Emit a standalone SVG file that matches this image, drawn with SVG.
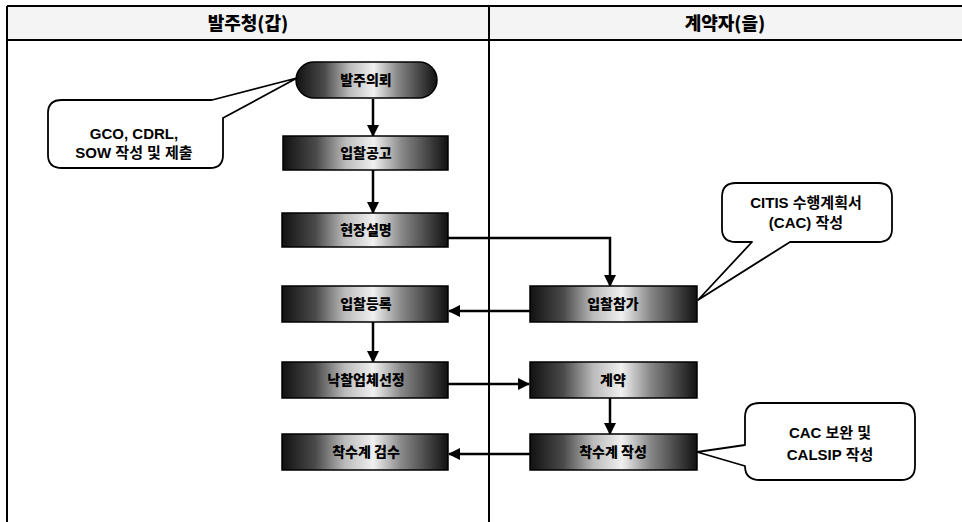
<svg xmlns="http://www.w3.org/2000/svg" width="962" height="522" viewBox="0 0 962 522">
<defs>
<linearGradient id="g" x1="0" y1="0" x2="1" y2="0">
<stop offset="0" stop-color="#111"/>
<stop offset="0.2" stop-color="#4a4a4a"/>
<stop offset="0.38" stop-color="#bbb"/>
<stop offset="0.55" stop-color="#f0f0f0"/>
<stop offset="0.72" stop-color="#888"/>
<stop offset="1" stop-color="#111"/>
</linearGradient>
<marker id="ah" viewBox="0 0 12 12" refX="11" refY="6" markerWidth="12" markerHeight="12" markerUnits="userSpaceOnUse" orient="auto">
<path d="M0,0 L12,6 L0,12 Z" fill="#000"/>
</marker>
<style>
.frame{stroke:#000;stroke-width:2;fill:none}
.hdr{font-family:"Noto Sans CJK KR",sans-serif;font-weight:900;font-size:18px;text-anchor:middle;fill:#000}
.box{fill:url(#g);stroke:#000;stroke-width:1.5}
.lbl{font-family:"Noto Sans CJK KR",sans-serif;font-weight:900;font-size:14px;text-anchor:middle;fill:#000}
.conn{stroke:#000;stroke-width:2.5;fill:none;marker-end:url(#ah)}
.call{fill:#fff;stroke:#000;stroke-width:1.8;stroke-linejoin:round}
.ct{font-family:"Liberation Sans","Noto Sans CJK KR",sans-serif;font-weight:bold;font-size:15px;text-anchor:middle;fill:#000}
</style>
</defs>
<rect x="7" y="6" width="955" height="34" fill="#f4f4f4"/>
<g id="frame">
<line class="frame" x1="7" y1="6" x2="962" y2="6"/>
<line class="frame" x1="7" y1="40" x2="962" y2="40"/>
<line class="frame" x1="7" y1="6" x2="7" y2="522"/>
<line class="frame" x1="489" y1="6" x2="489" y2="522"/>
<text class="hdr" x="248" y="30">발주청(갑)</text>
<text class="hdr" x="725" y="30">계약자(을)</text>
</g>
<g id="connectors">
<line class="conn" x1="373" y1="99" x2="373" y2="136"/>
<line class="conn" x1="373" y1="170" x2="373" y2="213"/>
<polyline class="conn" points="448,238 610,238 610,286"/>
<line class="conn" x1="530" y1="311" x2="449" y2="311"/>
<line class="conn" x1="373" y1="322" x2="373" y2="362"/>
<line class="conn" x1="448" y1="384" x2="529" y2="384"/>
<line class="conn" x1="610" y1="398" x2="610" y2="434"/>
<line class="conn" x1="530" y1="454" x2="449" y2="454"/>
</g>
<g id="n1"><rect class="box" x="296" y="62" width="141" height="36" rx="18"/><text class="lbl" x="366" y="85">발주의뢰</text></g>
<g id="n2"><rect class="box" x="283" y="136" width="165" height="34"/><text class="lbl" x="366" y="158">입찰공고</text></g>
<g id="n3"><rect class="box" x="282" y="213" width="166" height="34"/><text class="lbl" x="366" y="235">현장설명</text></g>
<g id="n4"><rect class="box" x="282" y="286" width="166" height="36"/><text class="lbl" x="366" y="309">입찰등록</text></g>
<g id="n5"><rect class="box" x="282" y="362" width="166" height="36"/><text class="lbl" x="366" y="385">낙찰업체선정</text></g>
<g id="n6"><rect class="box" x="282" y="434" width="166" height="36"/><text class="lbl" x="366" y="457">착수계 검수</text></g>
<g id="n7"><rect class="box" x="530" y="286" width="167" height="36"/><text class="lbl" x="613" y="309">입찰참가</text></g>
<g id="n8"><rect class="box" x="530" y="362" width="167" height="36"/><text class="lbl" x="613" y="385">계약</text></g>
<g id="n9"><rect class="box" x="530" y="434" width="167" height="36"/><text class="lbl" x="613" y="457">착수계 작성</text></g>
<g id="c1">
<path class="call" d="M62,100 L212,100 L297,78 L223,118 L223,155 Q223,168 210,168 L62,168 Q48,168 48,155 L48,113 Q48,100 62,100 Z"/>
<text class="ct" x="134" y="139">GCO, CDRL,</text>
<text class="ct" x="134" y="158">SOW 작성 및 제출</text>
</g>
<g id="c2">
<path class="call" d="M736,183 L878,183 Q892,183 892,197 L892,229 Q892,242 878,242 L790,242 L698,300 L752,242 L736,242 Q722,242 722,229 L722,197 Q722,183 736,183 Z"/>
<text class="ct" x="806" y="208">CITIS 수행계획서</text>
<text class="ct" x="806" y="228">(CAC) 작성</text>
</g>
<g id="c3">
<path class="call" d="M760,403 L901,403 Q915,403 915,417 L915,466 Q915,480 901,480 L760,480 Q745,480 745,466 L697,452 L745,445 L745,417 Q745,403 760,403 Z"/>
<text class="ct" x="830" y="438">CAC 보완 및</text>
<text class="ct" x="830" y="460">CALSIP 작성</text>
</g>
</svg>
